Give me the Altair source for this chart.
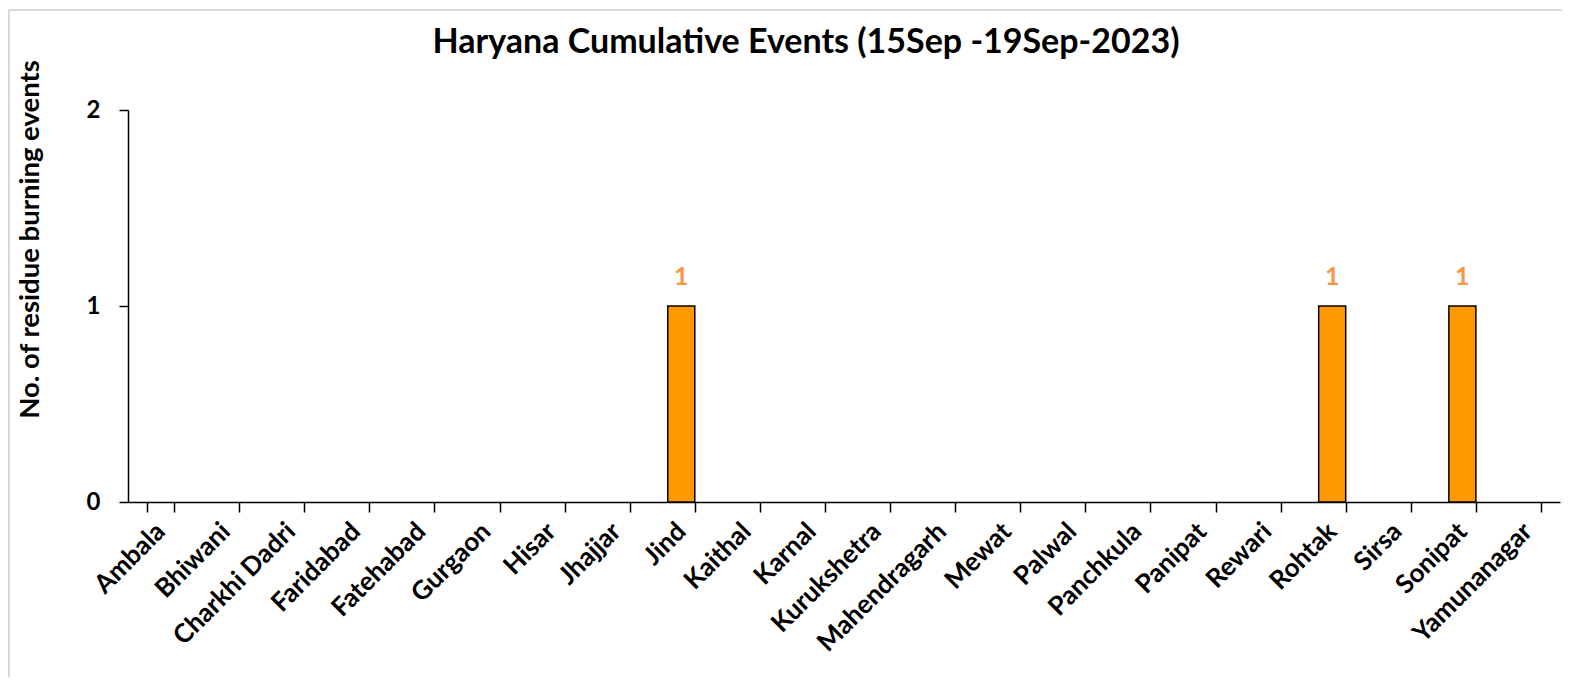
import altair as alt
import pandas as pd

districts = ["Ambala", "Bhiwani", "Charkhi Dadri", "Faridabad", "Fatehabad", "Gurgaon",
             "Hisar", "Jhajjar", "Jind", "Kaithal", "Karnal", "Kurukshetra", "Mahendragarh",
             "Mewat", "Palwal", "Panchkula", "Panipat", "Rewari", "Rohtak", "Sirsa",
             "Sonipat", "Yamunanagar"]
events = [0, 0, 0, 0, 0, 0, 0, 0, 1, 0, 0, 0, 0, 0, 0, 0, 0, 0, 1, 0, 1, 0]
y_max = 2
y_tick_count = 3
title_text = "Haryana Cumulative Events (15Sep -19Sep-2023)"

df = pd.DataFrame({"district": districts, "events": events})
df["label"] = df["events"].apply(lambda v: str(v) if v > 0 else "")

FONT = "Lato"
W, H = 1432, 392

xs = alt.X("district:N", sort=districts,
           scale=alt.Scale(paddingInner=0.585, paddingOuter=0.2925),
           axis=alt.Axis(title=None, labelAngle=-45, labelAlign="right", labelBaseline="middle",
                         labelFont=FONT, labelFontWeight="bold", labelFontSize=26,
                         labelColor="black", labelPadding=15, tickBand="extent",
                         tickColor="black", tickSize=10, tickWidth=1.5,
                         domainColor="black", domainWidth=1.5))
ys = alt.Y("events:Q", scale=alt.Scale(domain=[0, y_max], nice=False),
           axis=alt.Axis(title="No. of residue burning events", tickCount=y_tick_count,
                         format="d", labelOverlap=False,
                         titleFont=FONT, titleFontWeight="bold", titleFontSize=27.5,
                         titleColor="black", titleX=-84, titleY=129,
                         labelFont=FONT, labelFontWeight="bold", labelFontSize=24,
                         labelColor="black", labelPadding=19, grid=False,
                         tickColor="black", tickSize=9, tickWidth=1.5,
                         domainColor="black", domainWidth=1.5))

bars = alt.Chart(df).mark_bar(color="#FF9900", stroke="black").encode(
    x=xs, y=ys,
    strokeWidth=alt.condition(alt.datum.events > 0, alt.value(1.5), alt.value(0)))
labels = alt.Chart(df).mark_text(dy=-29, font=FONT, fontWeight="bold", fontSize=25,
                                 color="#F79646").encode(x=xs, y=ys, text="label:N")

one = pd.DataFrame({"t": [title_text]})
title = alt.Chart(one).mark_text(font=FONT, fontWeight="bold", fontSize=34, color="black",
                                 baseline="middle", align="center").encode(
    x=alt.value(678), y=alt.value(-67), text="t:N")

top_line = alt.Chart(one).mark_rule(color="#D9D9D9", strokeWidth=2).encode(
    x=alt.value(-119), x2=alt.value(1442), y=alt.value(-100))
left_line = alt.Chart(one).mark_rule(color="#D9D9D9", strokeWidth=2).encode(
    x=alt.value(-119), y=alt.value(-100), y2=alt.value(575))

chart = alt.layer(top_line, left_line, title, bars, labels).properties(
    width=W, height=H,
    autosize=alt.AutoSizeParams(type="none"),
    padding={"left": 120, "top": 102, "right": 2, "bottom": 175},
).configure_view(stroke=None)

chart.save("out.html", embed_options={"renderer": "svg", "actions": False})
